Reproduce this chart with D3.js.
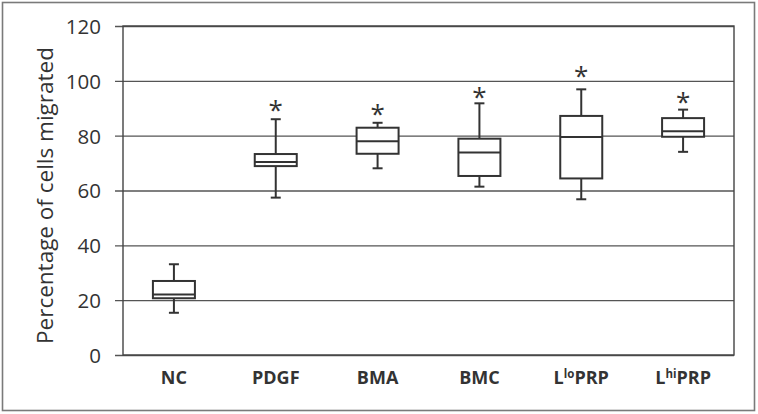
<!DOCTYPE html>
<html>
<head>
<meta charset="utf-8">
<script src="https://cdn.jsdelivr.net/npm/d3@7"></script>
<style>
  body { margin: 0; background: #fff; }
  svg text { font-family: "Open Sans", "DejaVu Sans", sans-serif; fill: #333; }
</style>
</head>
<body>
<script>
//data
var groups   = ["NC", "PDGF", "BMA", "BMC", "LloPRP", "LhiPRP"];
var whiskLo  = [15.4, 57.4, 68.1, 61.4, 56.8, 74.1];
var q1       = [20.7, 68.9, 73.4, 65.3, 64.4, 79.6];
var medians  = [22.1, 70.4, 78.0, 73.9, 79.5, 81.6];
var q3       = [27.0, 73.3, 82.9, 78.9, 87.2, 86.4];
var whiskHi  = [33.1, 86.0, 84.7, 91.8, 96.9, 89.5];
var starAt   = [null, 90.6, 89.1, 95.1, 102.7, 93.4]; //where the * sits
var yTicks   = [0, 20, 40, 60, 80, 100, 120];

(function(){
    var width = 758, height = 414;
    var margin = {left: 123, right: 24, top: 26, bottom: 59};

    var svg = d3.select("body").append("svg")
        .attr("width", width)
        .attr("height", height);

    //outer frame
    svg.append("rect")
        .attr("x", 2.5).attr("y", 2.5)
        .attr("width", 752).attr("height", 408)
        .attr("fill", "none")
        .attr("stroke", "#7a7a7a")
        .attr("stroke-width", 1.6);

    var x = d3.scaleBand()
        .domain(groups)
        .range([margin.left, width - margin.right]);

    var y = d3.scaleLinear()
        .domain([0, 120])
        .range([height - margin.bottom, margin.top]);

    //gridlines + left tick labels
    var yAxis = d3.axisLeft(y)
        .tickValues(yTicks)
        .tickSize(-(width - margin.right - margin.left) - 8)
        .tickPadding(14);

    var ga = svg.append("g")
        .attr("class", "axis")
        .attr("transform", "translate(" + (margin.left - 8) + ",0)")
        .call(yAxis);
    ga.select(".domain").remove();
    ga.selectAll(".tick line")
        .attr("stroke", "#555")
        .attr("stroke-width", 1.3);
    ga.selectAll(".tick text")
        .attr("font-size", 20.5)
        .attr("fill", "#444")
        .attr("dy", "0.36em");

    //plot frame
    svg.append("rect")
        .attr("x", margin.left).attr("y", margin.top)
        .attr("width", width - margin.right - margin.left)
        .attr("height", y(0) - margin.top)
        .attr("fill", "none")
        .attr("stroke", "#444")
        .attr("stroke-width", 1.4);

    //y title
    svg.append("text")
        .attr("transform", "translate(53," + ((margin.top + y(0)) / 2 + 5) + ") rotate(-90)")
        .attr("text-anchor", "middle")
        .attr("font-size", 22.5)
        .attr("fill", "#333")
        .text("Percentage of cells migrated");

    //category labels
    var xl = svg.append("g");
    groups.forEach(function(g, i){
        var t = xl.append("text")
            .attr("x", x(g) + x.bandwidth() / 2)
            .attr("y", 384)
            .attr("text-anchor", "middle")
            .attr("font-size", 18)
            .attr("font-weight", "bold")
            .attr("fill", "#333");
        if (g === "LloPRP" || g === "LhiPRP"){
            t.append("tspan").text("L");
            t.append("tspan")
                .attr("font-size", 11.5)
                .attr("dy", -6)
                .text(g === "LloPRP" ? "lo" : "hi");
            t.append("tspan").attr("dy", 6).text("PRP");
        } else {
            t.text(g);
        }
    });

    //boxes
    var boxW = 42, capW = 10;
    var line = "#333";
    groups.forEach(function(g, i){
        var cx = x(g) + x.bandwidth() / 2;
        var b = svg.append("g").attr("stroke", line).attr("stroke-width", 2).attr("fill", "none");

        b.append("line")
            .attr("x1", cx).attr("x2", cx)
            .attr("y1", y(whiskHi[i])).attr("y2", y(q3[i]));
        b.append("line")
            .attr("x1", cx).attr("x2", cx)
            .attr("y1", y(q1[i])).attr("y2", y(whiskLo[i]));
        [whiskHi[i], whiskLo[i]].forEach(function(v){
            b.append("line")
                .attr("x1", cx - capW / 2).attr("x2", cx + capW / 2)
                .attr("y1", y(v)).attr("y2", y(v));
        });
        b.append("rect")
            .attr("x", cx - boxW / 2)
            .attr("y", y(q3[i]))
            .attr("width", boxW)
            .attr("height", y(q1[i]) - y(q3[i]))
            .attr("fill", "#fff");
        b.append("line")
            .attr("x1", cx - boxW / 2).attr("x2", cx + boxW / 2)
            .attr("y1", y(medians[i])).attr("y2", y(medians[i]));

        if (starAt[i] !== null){
            svg.append("text")
                .attr("x", cx)
                .attr("y", y(starAt[i]) + 12)
                .attr("text-anchor", "middle")
                .attr("font-size", 26)
                .attr("fill", "#333")
                .text("*");
        }
    });
})();
</script>
</body>
</html>
